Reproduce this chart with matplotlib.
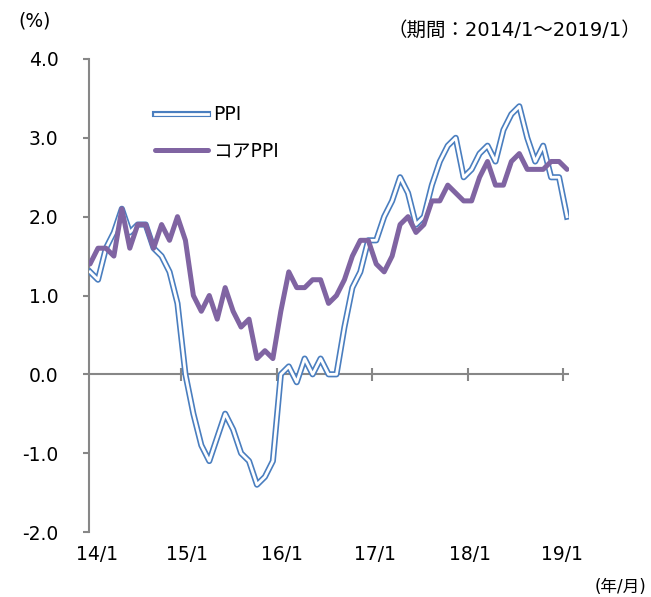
import numpy as np
import matplotlib
matplotlib.use("Agg")
import matplotlib.pyplot as plt
from matplotlib.lines import Line2D

plt.rcParams['font.family'] = ['DejaVu Sans', 'Noto Sans CJK JP']

# 2014/1 ~ 2019/1 月次 前年比(%)
ppi = [1.3, 1.2, 1.6, 1.8, 2.1, 1.8, 1.9, 1.9, 1.6, 1.5, 1.3, 0.9,
       0.0, -0.5, -0.9, -1.1, -0.8, -0.5, -0.7, -1.0, -1.1, -1.4, -1.3, -1.1,
       0.0, 0.1, -0.1, 0.2, 0.0, 0.2, 0.0, 0.0, 0.6, 1.1, 1.3, 1.7,
       1.7, 2.0, 2.2, 2.5, 2.3, 1.9, 2.0, 2.4, 2.7, 2.9, 3.0, 2.5,
       2.6, 2.8, 2.9, 2.7, 3.1, 3.3, 3.4, 3.0, 2.7, 2.9, 2.5, 2.5,
       2.0]
core = [1.4, 1.6, 1.6, 1.5, 2.1, 1.6, 1.9, 1.9, 1.6, 1.9, 1.7, 2.0,
        1.7, 1.0, 0.8, 1.0, 0.7, 1.1, 0.8, 0.6, 0.7, 0.2, 0.3, 0.2,
        0.8, 1.3, 1.1, 1.1, 1.2, 1.2, 0.9, 1.0, 1.2, 1.5, 1.7, 1.7,
        1.4, 1.3, 1.5, 1.9, 2.0, 1.8, 1.9, 2.2, 2.2, 2.4, 2.3, 2.2,
        2.2, 2.5, 2.7, 2.4, 2.4, 2.7, 2.8, 2.6, 2.6, 2.6, 2.7, 2.7,
        2.6]
xlabels = ['14/1', '15/1', '16/1', '17/1', '18/1', '19/1']
yticks = [-2.0, -1.0, 0.0, 1.0, 2.0, 3.0, 4.0]

blue = '#4a7ebf'
purple = '#8064a2'
gray = '#878787'

x = np.arange(len(ppi))

fig = plt.figure(figsize=(6.51, 5.97), dpi=100)
ax = fig.add_axes([89/651, 65/597, 480/651, 473/597])

# PPIは二重線
ax.plot(x, ppi, color=blue, lw=4.4, zorder=3, solid_joinstyle='round')
ax.plot(x, ppi, color='white', lw=2.0, zorder=3.1, solid_joinstyle='round')
ax.plot(x, core, color=purple, lw=3.6, zorder=4, solid_capstyle='round',
        solid_joinstyle='round')

ax.set_xlim(-0.13, 60.25)
ax.set_ylim(-2, 4)

for s in ['top', 'right', 'bottom']:
    ax.spines[s].set_visible(False)
ax.spines['left'].set_color(gray)
ax.spines['left'].set_linewidth(1.5)

ax.set_yticks(yticks)
ax.set_yticklabels([f'{v:.1f}' for v in yticks])
ax.tick_params(axis='y', direction='out', length=4, width=1.5, color=gray,
               labelsize=13.5, pad=18)

# 0の線と目盛り
ax.axhline(0, color=gray, lw=1.5, zorder=2)
ax.vlines(np.arange(11.5, 60, 12), -0.085, 0.085, color=gray, lw=1.5, zorder=2)

ax.set_xticks([0.9, 12.2, 24.2, 35.9, 47.8, 59.4])
ax.set_xticklabels(xlabels)
ax.tick_params(axis='x', length=0, labelsize=13.5, pad=9)

h_ppi = (Line2D([], [], color=blue, lw=4.4), Line2D([], [], color='white', lw=2.0))
h_core = Line2D([], [], color=purple, lw=3.6, solid_capstyle='round')
ax.legend([h_ppi, h_core], ['PPI', 'コアPPI'], loc='upper left',
          bbox_to_anchor=(0.118, 0.922), frameon=False, fontsize=13.5,
          handlelength=2.8, handletextpad=0.3, labelspacing=0.9, borderpad=0)

fig.text(18/651, 1 - 21/597, '(%)', fontsize=13.5, va='center', ha='left')
fig.text(641/651, 1 - 30/597, '（期間：2014/1～2019/1）', fontsize=14,
         va='center', ha='right')
fig.text(646/651, 1 - 587/597, '(年/月)', fontsize=12, va='center', ha='right')

fig.savefig('out.png', dpi=100)
